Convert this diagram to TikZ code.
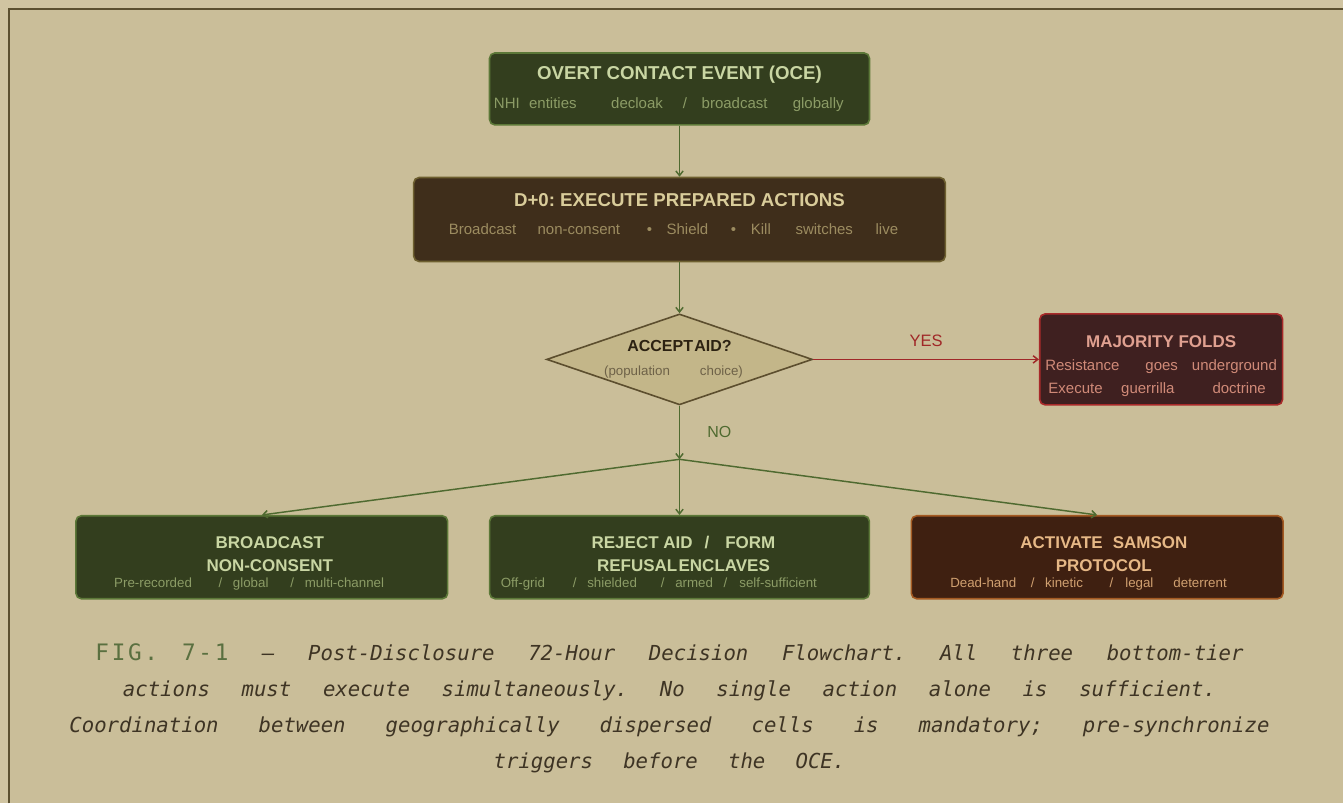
\documentclass[tikz,border=0pt]{standalone}
\usepackage{fontspec}
\setmainfont{Liberation Sans}
\newfontfamily\capfont{DejaVu Sans Mono}
\newfontfamily\figfont[LetterSpace=12]{DejaVu Sans Mono}
\usetikzlibrary{shapes.geometric, arrows.meta}
\frenchspacing

\definecolor{paper}{RGB}{208,196,161}
\definecolor{paperin}{RGB}{202,190,153}
\definecolor{frame}{RGB}{92,80,48}
\definecolor{moss}{RGB}{51,62,30}
\definecolor{mossline}{RGB}{92,120,56}
\definecolor{mosstitle}{RGB}{201,214,163}
\definecolor{mosssub}{RGB}{140,156,102}
\definecolor{umber}{RGB}{63,46,27}
\definecolor{umberline}{RGB}{110,96,48}
\definecolor{umbertitle}{RGB}{217,204,154}
\definecolor{umbersub}{RGB}{156,140,96}
\definecolor{khaki}{RGB}{195,182,137}
\definecolor{khakiline}{RGB}{92,78,46}
\definecolor{khakititle}{RGB}{44,34,18}
\definecolor{khakisub}{RGB}{110,98,72}
\definecolor{blood}{RGB}{63,32,32}
\definecolor{bloodline}{RGB}{168,42,42}
\definecolor{bloodtitle}{RGB}{224,160,144}
\definecolor{bloodsub}{RGB}{208,138,120}
\definecolor{rust}{RGB}{63,32,17}
\definecolor{rustline}{RGB}{164,90,34}
\definecolor{rusttitle}{RGB}{230,184,134}
\definecolor{rustsub}{RGB}{208,160,112}
\definecolor{arrowgreen}{RGB}{79,106,48}
\definecolor{arrowred}{RGB}{160,40,40}
\definecolor{captext}{RGB}{62,52,36}
\definecolor{figgreen}{RGB}{90,112,64}

\newcommand{\subtext}{\fontsize{11.25}{14}\selectfont\mdseries}
\newcommand{\smalltext}{\fontsize{10}{12}\selectfont\mdseries}
\newcommand{\capline}[2]{\makebox[#1][s]{\spaceskip = 0.6em plus 1fil #2}}

\tikzstyle{oceevent} = [rectangle, rounded corners = 4pt, minimum width = 285pt, minimum height = 54pt, text centered, align = center, draw = mossline, line width = 1.2pt, fill = moss, text = mosstitle, font = \fontsize{14}{18}\selectfont\bfseries]
\tikzstyle{prepbox} = [rectangle, rounded corners = 4pt, minimum width = 399pt, minimum height = 63pt, text centered, align = center, draw = umberline, line width = 1.2pt, fill = umber, text = umbertitle, font = \fontsize{14}{18}\selectfont\bfseries]
\tikzstyle{decision} = [diamond, aspect = 2.9, inner sep = 0pt, minimum width = 199.5pt, minimum height = 68.25pt, text centered, align = center, draw = khakiline, line width = 1.2pt, fill = khaki, text = khakititle, font = \fontsize{12}{18}\selectfont\bfseries]
\tikzstyle{foldbox} = [rectangle, rounded corners = 4pt, inner xsep = 0pt, minimum width = 182.25pt, minimum height = 68.25pt, text centered, align = center, draw = bloodline, line width = 1.2pt, fill = blood, text = bloodtitle, font = \fontsize{12.75}{17.5}\selectfont\bfseries]
\tikzstyle{tierbox} = [rectangle, rounded corners = 4pt, minimum width = 285pt, minimum height = 62.25pt, text centered, align = center, draw = mossline, line width = 1.2pt, fill = moss, text = mosstitle, font = \fontsize{12.75}{17.25}\selectfont\bfseries]
\tikzstyle{samsonbox} = [tierbox, minimum width = 279pt, draw = rustline, fill = rust, text = rusttitle]
\tikzstyle{arrow} = [-{Straight Barb[length = 3.5pt, width = 5.5pt]}, line width = 1.1pt, draw = arrowgreen]
\tikzstyle{yesarrow} = [arrow, draw = arrowred]
\tikzstyle{captionnode} = [align = center, text = captext, font = \capfont\itshape\fontsize{15.5}{27}\selectfont]

\begin{document}
\begin{tikzpicture}[x = 0.75pt, y = -0.75pt, node distance = 98pt]
    % paper and frame
    \fill[paper] (0,0) rectangle (1344,804);
    \fill[paperin] (9,9) rectangle (1344,804);
    \draw[frame, line width = 1.5pt] (9,804) -- (9,9) -- (1344,9);
    \useasboundingbox (0,0) rectangle (1344,804);

    \node(oce)[oceevent] at (680,89){OVERT CONTACT EVENT (OCE)\\[4pt]
        {\subtext\color{mosssub}NHI\hspace{7pt}entities\hspace{26pt}decloak\hspace{15pt}/\hspace{11pt}broadcast\hspace{19pt}globally\hspace*{16pt}}};
    \node(prep)[prepbox, below of = oce]{D+0: EXECUTE PREPARED ACTIONS\\[3pt]
        {\subtext\color{umbersub}Broadcast\hspace{16pt}non-consent\hspace{20pt}•\hspace{11pt}Shield\hspace{17pt}•\hspace{11pt}Kill\hspace{18.5pt}switches\hspace{17pt}live\hspace*{9pt}\rule[-9pt]{0pt}{9pt}}};
    \node(accept)[decision, below of = prep, yshift = -7pt]{ACCEPT\hspace{1pt}AID?\\
        {\smalltext\color{khakisub}(population\hspace{22.5pt}choice)\hspace*{9pt}}};
    \node(folds)[foldbox, right of = accept, xshift = 263.5pt]{\rule{0pt}{19pt}MAJORITY FOLDS\\
        {\subtext\color{bloodsub}Resistance\hspace{19.5pt}goes\hspace{10.5pt}underground}\\
        {\subtext\color{bloodsub}Execute\hspace{14pt}guerrilla\hspace{28.5pt}doctrine\hspace*{6pt}}};
    \coordinate[below of = accept, yshift = 23pt](split);
    \node(reject)[tierbox, below of = accept, yshift = -50.5pt]{\rule{0pt}{18pt}\hspace*{6pt}REJECT AID\hspace{9pt}/\hspace{12pt}FORM\\\hspace*{6pt}REFUSAL\hspace{1pt}ENCLAVES\\[-5.5pt]
        {\smalltext\color{mosssub}Off-grid\hspace{21pt}/\hspace{8pt}shielded\hspace{18pt}/\hspace{8pt}armed\hspace{8pt}/\hspace{9pt}self-sufficient\hspace*{31pt}}};
    \node(bcast)[tierbox, minimum width = 279pt, left of = reject, xshift = -215.5pt]{\rule{0pt}{18pt}\hspace*{12pt}BROADCAST\\\hspace*{12pt}NON-CONSENT\\[-5.5pt]
        {\smalltext\color{mosssub}Pre-recorded\hspace{20pt}/\hspace{8pt}global\hspace{16.5pt}/\hspace{8pt}multi-channel\hspace*{19pt}}};
    \node(samson)[samsonbox, right of = reject, xshift = 215.5pt]{\rule{0pt}{18pt}\hspace*{10pt}ACTIVATE\hspace{7.5pt}SAMSON\\\hspace*{10pt}PROTOCOL\\[-5.5pt]
        {\smalltext\color{rustsub}Dead-hand\hspace{11pt}/\hspace{8pt}kinetic\hspace{20pt}/\hspace{9pt}legal\hspace{15pt}deterrent\hspace*{13pt}}};

    \draw[arrow](oce)--(prep);
    \draw[arrow](prep)--(accept);
    \draw[yesarrow](accept)--node[above = 6pt, text = arrowred, font = \fontsize{12.4}{15}\selectfont]{YES}(folds);
    \draw[arrow](accept)--node[right = 17pt, text = arrowgreen, font = \fontsize{12}{15}\selectfont]{NO}(split);
    \draw[arrow](split)--(bcast.north);
    \draw[arrow](split)--(reject.north);
    \draw[arrow](split)--(samson.north);

    \node(caption)[captionnode] at (670,709){%
        \capline{861.75pt}{{\figfont\upshape\fontsize{17}{27}\selectfont\color{figgreen}FIG.\hspace{18pt}7-1} — Post-Disclosure 72-Hour Decision Flowchart. All three bottom-tier}\\
        \capline{820.5pt}{actions must execute simultaneously. No single action alone is sufficient.}\\
        \capline{900.75pt}{Coordination between geographically dispersed cells is mandatory; pre-synchronize}\\
        \capline{264pt}{triggers before the OCE.}};
\end{tikzpicture}
\end{document}
